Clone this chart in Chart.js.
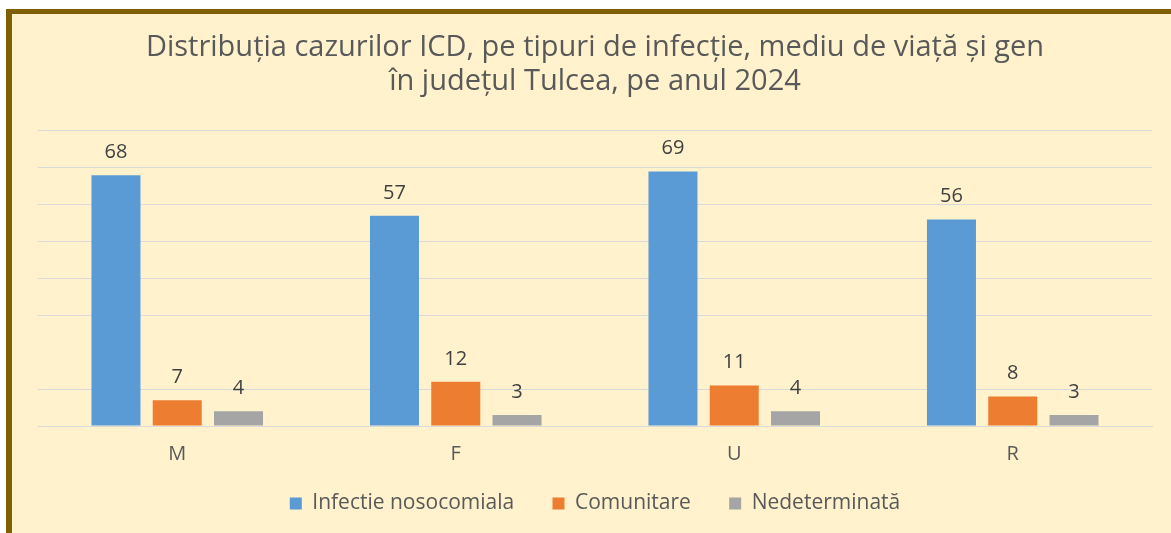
<!DOCTYPE html>
<html>
<head>
<meta charset="utf-8">
<script src="https://cdn.jsdelivr.net/npm/chart.js@4.4.1/dist/chart.umd.min.js"></script>
<style>
  html, body { margin: 0; padding: 0; background: #ffffff; overflow: hidden; }
  #frame { position: absolute; left: 6px; top: 9px; width: 1200px; height: 600px;
           background: #FFF2CC; border-left: 6px solid #7F6000; border-top: 5px solid #7F6000; box-sizing: border-box; }
  #wrap { position: absolute; left: 0; top: 0; width: 1171px; height: 533px; }
</style>
</head>
<body>
<div id="frame"></div>
<div id="wrap"><canvas id="c" width="1171" height="533"></canvas></div>
<script>
const categories = ["M", "F", "U", "R"];
const seriesNames = ["Infectie nosocomiala", "Comunitare", "Nedeterminată"];
const nosocomiala = [68, 57, 69, 56];
const comunitare = [7, 12, 11, 8];
const nedeterminata = [4, 3, 4, 3];
const titleLines = ["Distribuția cazurilor ICD, pe tipuri de infecție, mediu de viață și gen", "în județul Tulcea, pe anul 2024"];
const yMax = 80;
const yStep = 10;

const FONT = "'Open Sans', Lato, sans-serif";

const valueLabels = {
  id: "valueLabels",
  afterDatasetsDraw(chart) {
    const ctx = chart.ctx;
    ctx.save();
    ctx.font = "20px " + FONT;
    ctx.fillStyle = "#404040";
    ctx.textAlign = "center";
    ctx.textBaseline = "alphabetic";
    chart.data.datasets.forEach((ds, i) => {
      const meta = chart.getDatasetMeta(i);
      meta.data.forEach((bar, j) => {
        ctx.fillText(String(ds.data[j]), bar.x, bar.y - 17);
      });
    });
    ctx.restore();
  }
};

const defaultLegendLabels = Chart.defaults.plugins.legend.labels.generateLabels;

new Chart(document.getElementById("c"), {
  type: "bar",
  data: {
    labels: categories,
    datasets: [
      { label: seriesNames[0], data: nosocomiala, backgroundColor: "#5B9BD5" },
      { label: seriesNames[1], data: comunitare, backgroundColor: "#ED7D31" },
      { label: seriesNames[2], data: nedeterminata, backgroundColor: "#A5A5A5" }
    ]
  },
  options: {
    responsive: false,
    animation: false,
    devicePixelRatio: 1,
    layout: { padding: { left: 38, right: 19, top: 31, bottom: 9 } },
    datasets: { bar: { categoryPercentage: 0.66, barPercentage: 0.8 } },
    plugins: {
      title: {
        display: true,
        text: titleLines,
        color: "#595959",
        font: { family: FONT, size: 29, weight: "normal", lineHeight: 1.17 },
        padding: { top: 0, bottom: 32 }
      },
      legend: {
        position: "bottom",
        labels: {
          color: "#595959",
          font: { family: FONT, size: 21 },
          boxWidth: 12,
          boxHeight: 12,
          padding: 11,
          generateLabels: (chart) => {
            const items = defaultLegendLabels(chart);
            items.forEach((it, i) => { if (i < items.length - 1) it.text = it.text + "     "; });
            return items;
          }
        }
      },
      tooltip: { enabled: false }
    },
    scales: {
      x: {
        grid: { display: false, drawTicks: false },
        border: { display: true, color: "#D9D9D9", width: 1 },
        ticks: { color: "#595959", font: { family: FONT, size: 20 }, padding: 16 }
      },
      y: {
        min: 0,
        max: yMax,
        ticks: { display: false, stepSize: yStep },
        border: { display: false },
        grid: {
          drawTicks: false,
          color: (c) => (c.tick && c.tick.value === 20 ? "rgba(0,0,0,0)" : "#D9D9D9")
        }
      }
    }
  },
  plugins: [valueLabels]
});
</script>
</body>
</html>
